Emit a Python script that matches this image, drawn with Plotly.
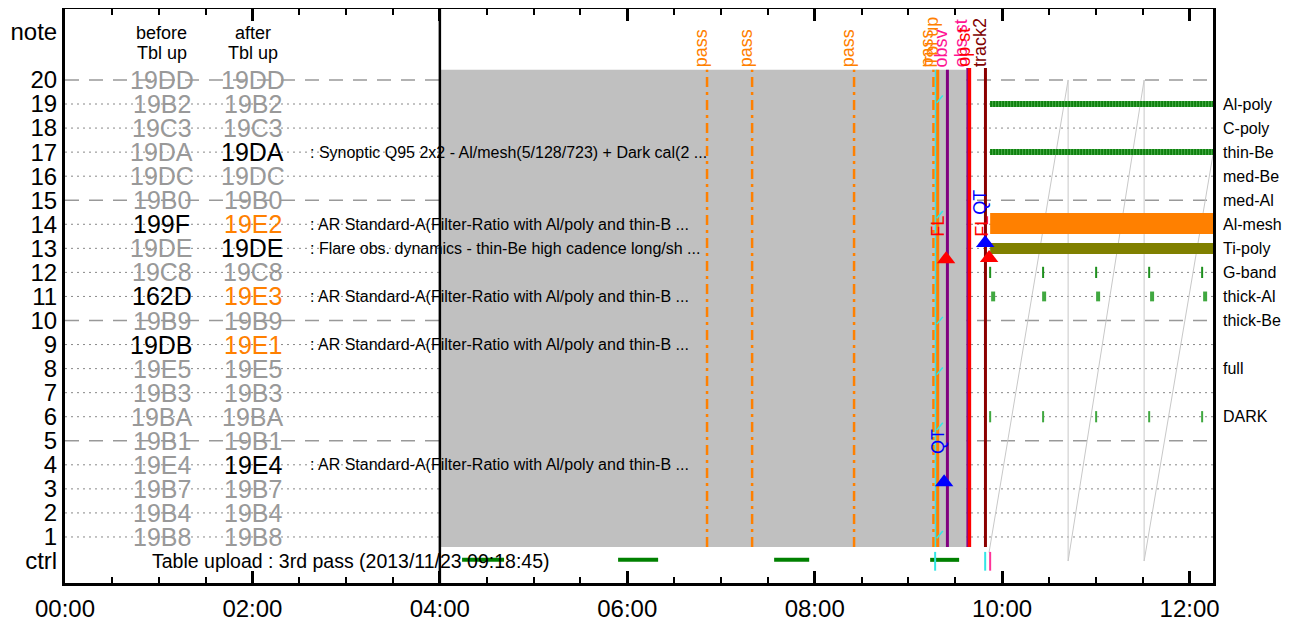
import plotly.graph_objects as go

FONT = "Liberation Sans, Arial, sans-serif"
GRAY_TXT = "#999999"
ORANGE = "#FF8000"

# ---------------- data ----------------
x_tick_vals = [0, 2, 4, 6, 8, 10, 12]
x_tick_text = ["00:00", "02:00", "04:00", "06:00", "08:00", "10:00", "12:00"]
y_tick_vals = [22] + list(range(20, 0, -1)) + [0]
y_tick_text = ["note"] + [str(i) for i in range(20, 0, -1)] + ["ctrl"]

table_rows = list(range(20, 0, -1))
before_codes = ["19DD", "19B2", "19C3", "19DA", "19DC", "19B0", "199F", "19DE", "19C8", "162D",
                "19B9", "19DB", "19E5", "19B3", "19BA", "19B1", "19E4", "19B7", "19B4", "19B8"]
after_codes = ["19DD", "19B2", "19C3", "19DA", "19DC", "19B0", "19E2", "19DE", "19C8", "19E3",
               "19B9", "19E1", "19E5", "19B3", "19BA", "19B1", "19E4", "19B7", "19B4", "19B8"]
before_state = ["g", "g", "g", "g", "g", "g", "k", "g", "g", "k",
                "g", "k", "g", "g", "g", "g", "g", "g", "g", "g"]
after_state = ["g", "g", "g", "k", "g", "g", "o", "k", "g", "o",
               "g", "o", "g", "g", "g", "g", "k", "g", "g", "g"]
desc_rows = [17, 14, 13, 11, 9, 4]
desc_text = [": Synoptic Q95 2x2 - Al/mesh(5/128/723) + Dark cal(2 ...",
             ": AR Standard-A(Filter-Ratio with Al/poly and thin-B ...",
             ": Flare obs. dynamics - thin-Be high cadence long/sh ...",
             ": AR Standard-A(Filter-Ratio with Al/poly and thin-B ...",
             ": AR Standard-A(Filter-Ratio with Al/poly and thin-B ...",
             ": AR Standard-A(Filter-Ratio with Al/poly and thin-B ..."]

filter_rows = [19, 18, 17, 16, 15, 14, 13, 12, 11, 10, 8, 6]
filter_names = ["Al-poly", "C-poly", "thin-Be", "med-Be", "med-Al", "Al-mesh", "Ti-poly",
                "G-band", "thick-Al", "thick-Be", "full", "DARK"]

dashed_rows = [20, 15, 10, 5]
dotted_rows = [19, 18, 17, 16, 14, 13, 12, 11, 9, 8, 7, 6, 4, 3, 2, 1]

gray_span = [4.0, 9.62]
gray_rows = [0.58, 20.42]

pass_times = [6.851, 7.332, 8.42, 9.267]
cyan_time = 9.292
tblup_time = 9.3125
obsv_time = 9.416
purple2_time = 9.626
opst_time = 9.648
track2_time = 9.822

cyan_slash_rows = [19.2, 14.4, 10.0, 7.9, 5.6, 1.1]

ctrl_green_start = [4.237, 5.902, 7.567, 9.232]
ctrl_green_end = [4.685, 6.329, 7.941, 9.541]
ctrl_cyan_times = [9.285, 9.819]
ctrl_pink_times = [9.872]

fl_x = [9.402, 9.861]
fl_y = [12.55, 12.6]
qt_x = [9.381, 9.819]
qt_y = [3.28, 13.22]

exp_start = 9.872
exp_end = 12.25
gband_times = [9.872, 10.437, 11.003, 11.569, 12.134]
thickal_times = [9.904, 10.448, 11.024, 11.600, 12.166]
dark_times = [9.872, 10.437, 11.003, 11.569, 12.134]

saw_x = [9.86, 10.704, 10.704, 11.515, 11.515, 12.25]
saw_y = [0.35, 20.0, 0.0, 20.0, 0.0, 16.9]

fig = go.Figure()

# sawtooth
fig.add_trace(go.Scatter(x=saw_x, y=saw_y, mode="lines",
                         line=dict(color="#c8c8c8", width=1)))

# vertical lines
y0, y1 = gray_rows
for t in pass_times:
    fig.add_trace(go.Scatter(x=[t, t], y=[y0, y1], mode="lines",
                             line=dict(color=ORANGE, width=2.5, dash="10px,5px,3px,5px")))
fig.add_trace(go.Scatter(x=[cyan_time, cyan_time], y=[y0, y1], mode="lines",
                         line=dict(color="#33e6e6", width=2)))
fig.add_trace(go.Scatter(x=[tblup_time, tblup_time], y=[y0, y1], mode="lines",
                         line=dict(color=ORANGE, width=3)))
fig.add_trace(go.Scatter(x=[obsv_time, obsv_time], y=[y0, y1], mode="lines",
                         line=dict(color="#800080", width=3)))
fig.add_trace(go.Scatter(x=[opst_time, opst_time], y=[y0, 20.5], mode="lines",
                         line=dict(color="#FF0000", width=4)))
fig.add_trace(go.Scatter(x=[purple2_time, purple2_time], y=[y0, 20.5], mode="lines",
                         line=dict(color="#800080", width=1.5)))
fig.add_trace(go.Scatter(x=[track2_time, track2_time], y=[y0, 20.5], mode="lines",
                         line=dict(color="#8B0000", width=3)))

# cyan slashes
sx, sy = [], []
for r in cyan_slash_rows:
    sx += [cyan_time + 0.01, cyan_time + 0.075, None]
    sy += [r - 0.15, r + 0.15, None]
fig.add_trace(go.Scatter(x=sx, y=sy, mode="lines", line=dict(color="#33e6e6", width=1.5)))

# ctrl row
gx, gy = [], []
for a, b in zip(ctrl_green_start, ctrl_green_end):
    gx += [a, b, None]
    gy += [0.05, 0.05, None]
fig.add_trace(go.Scatter(x=gx, y=gy, mode="lines", line=dict(color="#008000", width=4)))
for t in ctrl_cyan_times:
    fig.add_trace(go.Scatter(x=[t, t], y=[-0.4, 0.38], mode="lines",
                             line=dict(color="#33e6e6", width=2)))
for t in ctrl_pink_times:
    fig.add_trace(go.Scatter(x=[t, t], y=[-0.4, 0.38], mode="lines",
                             line=dict(color="#FF3399", width=2)))

# exposure rows
for r in (19, 17):
    fig.add_trace(go.Scatter(x=[exp_start, exp_end], y=[r, r], mode="lines",
                             line=dict(color="#4caf4c", width=6)))
    fig.add_trace(go.Scatter(x=[exp_start, exp_end], y=[r, r], mode="lines",
                             line=dict(color="#0f800f", width=6, dash="2px,1px")))
fig.add_trace(go.Scatter(x=[exp_start, exp_end], y=[14.03, 14.03], mode="lines",
                         line=dict(color=ORANGE, width=21)))
fig.add_trace(go.Scatter(x=[exp_start, exp_end], y=[12.99, 12.99], mode="lines",
                         line=dict(color="#808000", width=11)))
fig.add_trace(go.Scatter(x=gband_times, y=[12] * len(gband_times), mode="markers",
                         marker=dict(symbol="line-ns", size=8,
                                     line=dict(color="#1e901e", width=2))))
fig.add_trace(go.Scatter(x=thickal_times, y=[11] * len(thickal_times), mode="markers",
                         marker=dict(symbol="line-ns", size=7,
                                     line=dict(color="#40a840", width=4))))
fig.add_trace(go.Scatter(x=dark_times, y=[6] * len(dark_times), mode="markers",
                         marker=dict(symbol="line-ns", size=8,
                                     line=dict(color="#40a840", width=2))))

# triangles
fig.add_trace(go.Scatter(x=fl_x, y=fl_y, mode="markers",
                         marker=dict(symbol="triangle-up", size=16, color="#FF0000")))
fig.add_trace(go.Scatter(x=qt_x, y=qt_y, mode="markers",
                         marker=dict(symbol="triangle-up", size=16, color="#0000FF")))

# ---------------- shapes ----------------
shapes = [dict(type="rect", xref="x", yref="y", x0=gray_span[0], x1=gray_span[1],
               y0=gray_rows[0], y1=gray_rows[1], fillcolor="#C0C0C0",
               line=dict(width=0), layer="below")]
for r in dashed_rows:
    shapes.append(dict(type="line", xref="paper", yref="y", x0=0, x1=1, y0=r, y1=r,
                       line=dict(color="#999999", width=1.5, dash="14px,10px"), layer="below"))
for r in dotted_rows:
    shapes.append(dict(type="line", xref="paper", yref="y", x0=0, x1=1, y0=r, y1=r,
                       line=dict(color="#888888", width=1, dash="2px,4px"), layer="below"))
shapes.append(dict(type="line", xref="x", yref="paper", x0=4, x1=4, y0=0, y1=1,
                   line=dict(color="black", width=2.5), layer="above"))

# ---------------- annotations ----------------
ann = []
colmap = {"g": GRAY_TXT, "k": "black", "o": ORANGE}
for r, b, a, bs, as_ in zip(table_rows, before_codes, after_codes, before_state, after_state):
    ann.append(dict(x=1.035, y=r, xref="x", yref="y", text=b, showarrow=False,
                    font=dict(size=25, color=colmap[bs], family=FONT)))
    ann.append(dict(x=2.006, y=r, xref="x", yref="y", text=a, showarrow=False,
                    font=dict(size=25, color=colmap[as_], family=FONT)))
for r, t in zip(desc_rows, desc_text):
    ann.append(dict(x=2.593, y=r, xref="x", yref="y", text=t, showarrow=False,
                    xanchor="left", font=dict(size=16, color="black", family=FONT)))
ann.append(dict(x=1.035, y=21.95, xref="x", yref="y", text="before", showarrow=False,
                font=dict(size=18, color="black", family=FONT)))
ann.append(dict(x=1.035, y=21.12, xref="x", yref="y", text="Tbl up", showarrow=False,
                font=dict(size=18, color="black", family=FONT)))
ann.append(dict(x=2.006, y=21.95, xref="x", yref="y", text="after", showarrow=False,
                font=dict(size=18, color="black", family=FONT)))
ann.append(dict(x=2.006, y=21.12, xref="x", yref="y", text="Tbl up", showarrow=False,
                font=dict(size=18, color="black", family=FONT)))
ann.append(dict(x=0.907, y=0, xref="x", yref="y", xanchor="left",
                text="Table upload : 3rd pass (2013/11/23 09:18:45)", showarrow=False,
                font=dict(size=19.5, color="black", family=FONT)))
for r, n in zip(filter_rows, filter_names):
    ann.append(dict(x=1, y=r, xref="paper", yref="y", xanchor="left", xshift=8,
                    text=n, showarrow=False, font=dict(size=16, color="black", family=FONT)))

top_labels = [(t, "pass", ORANGE) for t in pass_times] + [
    (tblup_time, "Tbl up", ORANGE),
    (obsv_time, "obsv", "#FF1493"),
    (purple2_time, "obs st", "#FF1493"),
    (opst_time, "op st", "#FF0000"),
    (track2_time, "track2", "#800000"),
]
for t, txt, c in top_labels:
    ann.append(dict(x=t, y=20.45, xref="x", yref="y", text=txt, showarrow=False,
                    textangle=-90, yanchor="bottom", xshift=-6,
                    font=dict(size=18, color=c, family=FONT)))

ann.append(dict(x=9.317, y=13.9, xref="x", yref="y", text="FL", showarrow=False,
                textangle=-90, font=dict(size=18, color="#FF0000", family=FONT)))
ann.append(dict(x=9.317, y=4.95, xref="x", yref="y", text="QT", showarrow=False,
                textangle=-90, font=dict(size=18, color="#0000FF", family=FONT)))
ann.append(dict(x=9.786, y=13.9, xref="x", yref="y", text="FL", showarrow=False,
                textangle=-90, font=dict(size=18, color="#FF0000", family=FONT)))
ann.append(dict(x=9.765, y=14.9, xref="x", yref="y", text="QT", showarrow=False,
                textangle=-90, font=dict(size=18, color="#0000FF", family=FONT)))

# the page puts the figure 8px in from the top-left corner of the window
fig.update_layout(
    width=1287, height=617,
    margin=dict(l=57, r=82, t=1, b=42, autoexpand=False),
    paper_bgcolor="white", plot_bgcolor="white",
    showlegend=False,
    font=dict(family=FONT, color="black"),
    shapes=shapes, annotations=ann,
    xaxis=dict(range=[0, 12.25], tickmode="array", tickvals=x_tick_vals, ticktext=x_tick_text,
               showgrid=False, zeroline=False, showline=True, linecolor="black", linewidth=3,
               mirror="ticks", ticks="inside", ticklen=12, tickwidth=3, tickcolor="black",
               ticklabelstandoff=2, tickfont=dict(size=24, family=FONT), automargin=False,
               minor=dict(dtick=0.5, tick0=0, ticks="inside", ticklen=6, tickwidth=2,
                          tickcolor="black", showgrid=False)),
    yaxis=dict(range=[-0.913, 22.95], tickmode="array", tickvals=y_tick_vals, ticktext=y_tick_text,
               showgrid=False, zeroline=False, showline=True, linecolor="black", linewidth=3,
               mirror=True, ticks="", ticklabelstandoff=0, tickfont=dict(size=24, family=FONT),
               automargin=False),
)

fig.write_html("out.html")
